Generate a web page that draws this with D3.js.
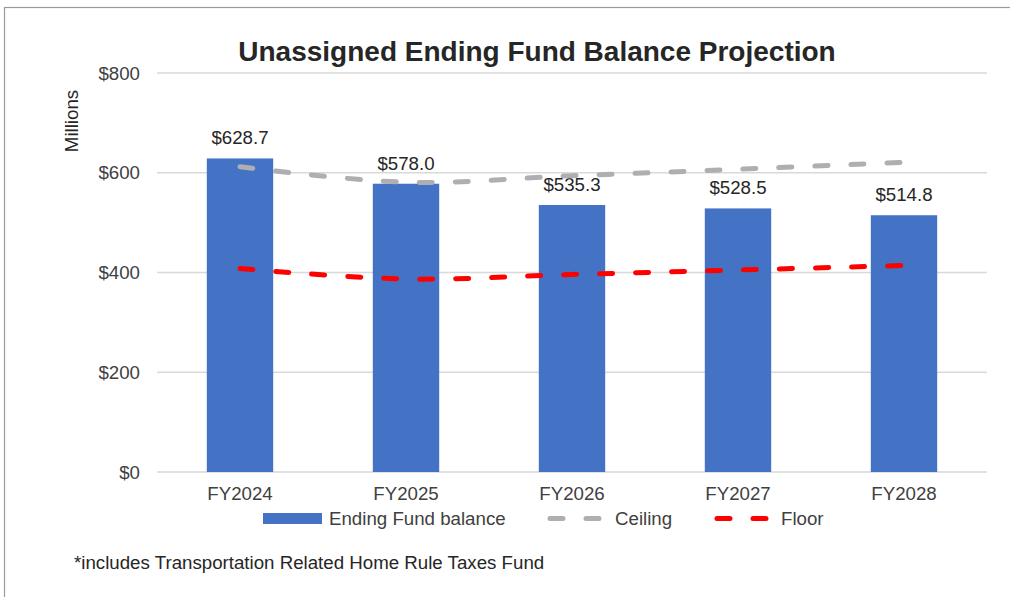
<!DOCTYPE html>
<html>
<head>
<meta charset="utf-8">
<script src="https://cdn.jsdelivr.net/npm/d3@7"></script>
<style>
  body { margin: 0; background: #fff; }
  text { font-family: "Liberation Sans", Arial, sans-serif; }
</style>
</head>
<body>
<div id="chart-area"></div>
<script>
// data
var years = ["FY2024", "FY2025", "FY2026", "FY2027", "FY2028"];
var balance = [628.7, 578.0, 535.3, 528.5, 514.8];
var ceiling = [612, 581, 594, 607, 621];
var floor = [408, 387, 396, 405, 414];
var yTicks = [0, 200, 400, 600, 800];

var W = 1010, H = 597;
var margin = { top: 73, right: 23, bottom: 125, left: 157 };
var fs = 18.7;

var svg = d3.select("#chart-area")
  .append("svg")
    .attr("width", W)
    .attr("height", H);

// outer border
svg.append("rect")
  .attr("x", 4.5).attr("y", 7.5)
  .attr("width", W + 10).attr("height", H + 10)
  .attr("fill", "none")
  .attr("stroke", "#9a9a9a")
  .attr("stroke-width", 1.2);

// scales
var x = d3.scaleBand()
  .domain(years)
  .range([margin.left, W - margin.right])
  .paddingInner(0.6)
  .paddingOuter(0.3);

var y = d3.scaleLinear()
  .domain([0, 800])
  .range([H - margin.bottom, margin.top]);

// gridlines
svg.append("g")
  .selectAll("line")
  .data(yTicks)
  .enter().append("line")
    .attr("x1", margin.left)
    .attr("x2", W - margin.right)
    .attr("y1", d => y(d))
    .attr("y2", d => y(d))
    .attr("stroke", "#d9d9d9")
    .attr("stroke-width", 1.3);

// y axis labels
svg.append("g")
  .selectAll("text")
  .data(yTicks)
  .enter().append("text")
    .attr("x", 140)
    .attr("y", d => y(d) + 6.5)
    .attr("text-anchor", "end")
    .attr("font-size", fs)
    .attr("fill", "#404040")
    .text(d => "$" + d);

// y label
svg.append("text")
  .attr("transform", "translate(78,121) rotate(-90)")
  .attr("text-anchor", "middle")
  .attr("font-size", fs)
  .attr("fill", "#262626")
  .text("Millions");

// title
svg.append("text")
  .attr("x", 537)
  .attr("y", 61)
  .attr("text-anchor", "middle")
  .attr("font-size", 28)
  .attr("font-weight", "bold")
  .attr("fill", "#262626")
  .text("Unassigned Ending Fund Balance Projection");

// bars
svg.append("g")
  .selectAll("rect")
  .data(balance)
  .enter().append("rect")
    .attr("x", (d, i) => x(years[i]))
    .attr("width", x.bandwidth())
    .attr("y", d => y(d))
    .attr("height", d => y(0) - y(d))
    .attr("fill", "#4472c4");

// bar labels
svg.append("g")
  .selectAll("text")
  .data(balance)
  .enter().append("text")
    .attr("x", (d, i) => x(years[i]) + x.bandwidth() / 2)
    .attr("y", d => y(d) - 14)
    .attr("text-anchor", "middle")
    .attr("font-size", fs)
    .attr("fill", "#262626")
    .text(d => "$" + d3.format(".1f")(d));

// x labels
svg.append("g")
  .selectAll("text")
  .data(years)
  .enter().append("text")
    .attr("x", d => x(d) + x.bandwidth() / 2)
    .attr("y", 500)
    .attr("text-anchor", "middle")
    .attr("font-size", fs)
    .attr("fill", "#404040")
    .text(d => d);

// lines
var line = d3.line()
  .x((d, i) => x(years[i]) + x.bandwidth() / 2)
  .y(d => y(d))
  .curve(d3.curveCatmullRom.alpha(0));

svg.append("path")
  .datum(ceiling)
  .attr("d", line)
  .attr("fill", "none")
  .attr("stroke", "#afafb3")
  .attr("stroke-width", 5)
  .attr("stroke-linecap", "round")
  .attr("stroke-dasharray", "13 23");

svg.append("path")
  .datum(floor)
  .attr("d", line)
  .attr("fill", "none")
  .attr("stroke", "#ff0000")
  .attr("stroke-width", 5)
  .attr("stroke-linecap", "round")
  .attr("stroke-dasharray", "13 23");

// legend
var legend = svg.append("g");
legend.append("rect")
  .attr("x", 263).attr("y", 513)
  .attr("width", 59).attr("height", 11)
  .attr("fill", "#4472c4");
legend.append("text")
  .attr("x", 329).attr("y", 525)
  .attr("font-size", fs).attr("fill", "#404040")
  .text("Ending Fund balance");

[["#afafb3", 550, "Ceiling", 615], ["#ff0000", 717, "Floor", 781]].forEach(function(l) {
  legend.append("line")
    .attr("x1", l[1]).attr("x2", l[1] + 54)
    .attr("y1", 518.5).attr("y2", 518.5)
    .attr("stroke", l[0])
    .attr("stroke-width", 5)
    .attr("stroke-linecap", "round")
    .attr("stroke-dasharray", "13 23");
  legend.append("text")
    .attr("x", l[3]).attr("y", 525)
    .attr("font-size", fs).attr("fill", "#404040")
    .text(l[2]);
});

// footnote
svg.append("text")
  .attr("x", 74)
  .attr("y", 569)
  .attr("font-size", fs)
  .attr("fill", "#262626")
  .text("*includes Transportation Related Home Rule Taxes Fund");
</script>
</body>
</html>
